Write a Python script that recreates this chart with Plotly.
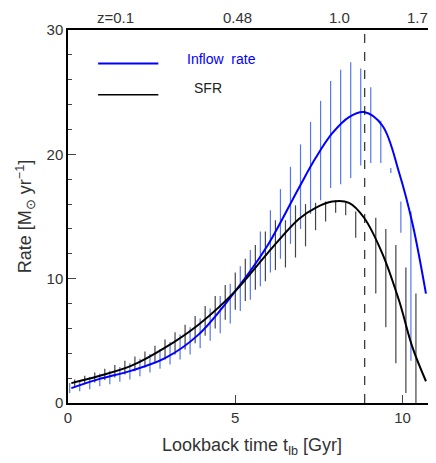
import plotly.graph_objects as go

# smooth model curves
curve_x = [0.1, 0.9, 1.9, 2.9, 3.9, 5.0, 5.95, 6.9, 7.4, 7.9, 8.4, 8.85, 9.4, 9.9, 10.3, 10.7]
inflow = [1.2, 1.9, 2.6, 3.6, 5.5, 9.0, 12.6, 17.3, 19.7, 21.7, 23.0, 23.4, 22.3, 18.5, 14.4, 8.8]
sfr = [1.6, 2.15, 3.0, 4.45, 6.3, 9.0, 12.0, 14.8, 15.7, 16.2, 16.1, 14.9, 12.0, 8.2, 4.45, 1.75]

# inflow error bars
blue_x = [0.05, 0.35, 0.65, 0.95, 1.25, 1.55, 1.85, 2.15, 2.45, 2.75, 3.05, 3.35, 3.65, 3.95,
          4.25, 4.55, 4.85, 5.15, 5.45, 5.75, 6.05, 6.35, 6.65, 6.95, 7.25, 7.55, 7.85, 8.15,
          8.45, 8.75, 9.05, 9.35, 9.65, 9.95, 10.25]
blue_mid = [1.2, 1.4, 1.6, 1.85, 2.05, 2.3, 2.55, 2.85, 3.2, 3.55, 4.0, 4.5, 5.0, 5.6,
            6.3, 7.1, 8.0, 9.2, 10.3, 11.6, 13.0, 14.4, 15.9, 17.4, 18.9, 20.3, 21.6, 22.2,
            22.75, 23.0, 22.35, 21.0, 18.7, 14.95, 9.4]
blue_err = [0.4, 0.45, 0.5, 0.5, 0.55, 0.6, 0.65, 0.7, 0.75, 0.8, 0.9, 1.0, 1.1, 1.2,
            1.3, 1.5, 1.6, 1.8, 2.0, 2.2, 2.5, 2.8, 3.1, 3.4, 3.7, 4.0, 4.3, 4.6,
            4.65, 3.9, 3.05, 1.7, 0.2, 1.25, 6.0]

# SFR error bars
black_x = [0.2, 0.5, 0.8, 1.1, 1.4, 1.7, 2.0, 2.3, 2.6, 2.9, 3.2, 3.5, 3.8, 4.1, 4.4, 4.7,
           5.0, 5.3, 5.6, 5.9, 6.2, 6.5, 6.8, 7.1, 7.4, 7.7, 8.0, 8.3, 8.6, 9.2, 9.5,
           9.8, 10.1, 10.4]
black_mid = [1.6, 1.85, 2.05, 2.3, 2.55, 2.85, 3.15, 3.5, 3.9, 4.3, 4.8, 5.3, 5.9, 6.6, 7.3, 8.1,
             9.0, 9.9, 10.9, 11.8, 12.7, 12.8, 13.8, 14.3, 15.0, 15.4, 15.8, 15.6, 14.35, 11.85, 10.05,
             7.95, 5.85, 4.4]
black_err = [0.3, 0.35, 0.4, 0.45, 0.5, 0.55, 0.6, 0.65, 0.7, 0.8, 0.9, 1.0, 1.1, 1.2, 1.3, 1.4,
             1.5, 1.7, 1.8, 2.0, 2.0, 1.9, 2.1, 1.7, 1.1, 0.8, 0.5, 0.5, 1.05, 3.05, 3.95,
             4.75, 5.05, 4.4]

z_pos = [1.43, 5.07, 8.12, 10.57]
z_labels = ["z=0.1", "0.48", "1.0", "1.78"]
z_one = 8.87

fig = go.Figure()
fig.add_trace(go.Scatter(x=black_x, y=black_mid, mode="markers", marker=dict(size=0.1, color="black"),
                         error_y=dict(type="data", array=black_err, width=0, thickness=1.2, color="#444")))
fig.add_trace(go.Scatter(x=blue_x, y=blue_mid, mode="markers", marker=dict(size=0.1, color="blue"),
                         error_y=dict(type="data", array=blue_err, width=0, thickness=1.2, color="#5577ee")))
fig.add_trace(go.Scatter(x=curve_x, y=inflow, mode="lines", line=dict(color="blue", width=2, shape="spline", smoothing=1)))
fig.add_trace(go.Scatter(x=curve_x, y=sfr, mode="lines", line=dict(color="black", width=2, shape="spline", smoothing=1)))

fig.add_vline(x=z_one, line=dict(color="black", width=1, dash="dash"))

# legend drawn by hand
fig.add_shape(type="line", x0=0.9, x1=2.7, y0=27.3, y1=27.3, line=dict(color="blue", width=2))
fig.add_shape(type="line", x0=0.9, x1=2.7, y0=24.8, y1=24.8, line=dict(color="black", width=1.5))
fig.add_annotation(x=3.5, y=27.7, text="Inflow  rate", showarrow=False, xanchor="left",
                   font=dict(color="blue", size=14))
fig.add_annotation(x=3.7, y=25.3, text="SFR", showarrow=False, xanchor="left",
                   font=dict(color="#222", size=14))

for p, t in zip(z_pos, z_labels):
    fig.add_annotation(x=p, y=1.0, yref="paper", text=t, showarrow=False, yanchor="bottom", yshift=2,
                       font=dict(color="#333", size=15))

fig.update_xaxes(range=[0, 11], tickvals=[0, 5, 10], ticks="inside", ticklen=8, mirror=True,
                 showline=True, linecolor="black", linewidth=1.5, showgrid=False, zeroline=False,
                 tickfont=dict(size=15),
                 title=dict(text="Lookback time t<sub>lb</sub> [Gyr]", standoff=14))
fig.update_yaxes(range=[0, 30], tickvals=[0, 10, 20, 30], ticks="inside", ticklen=8, mirror="ticks",
                 showline=True, linecolor="black", linewidth=1.5, showgrid=False, zeroline=False,
                 minor=dict(dtick=2, ticks="inside", ticklen=4), tickfont=dict(size=15),
                 title=dict(text="Rate [M<sub>⊙</sub> yr<sup>−1</sup>]", standoff=10))
fig.update_layout(width=436, height=463, showlegend=False, plot_bgcolor="white", paper_bgcolor="white",
                  margin=dict(l=60, r=6, t=22, b=68),
                  font=dict(family="Liberation Sans, Arial", size=15, color="#333"))
fig.write_html("out.html")
